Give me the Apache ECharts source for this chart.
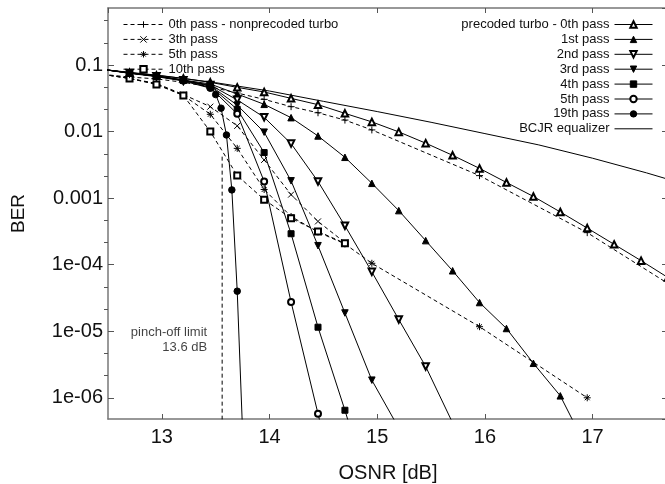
<!DOCTYPE html>
<html>
<head>
<meta charset="utf-8">
<script src="https://cdn.jsdelivr.net/npm/echarts@6/dist/echarts.min.js"></script>
<style>
  html, body { margin: 0; padding: 0; background: #fff; }
  #chart { width: 665px; height: 484px; }
</style>
</head>
<body>
<div id="chart"></div>
<script>
// OSNR [dB] / BER values
// precoded turbo
var pre0X = [12.45, 12.7, 12.95, 13.2, 13.45, 13.7, 13.95, 14.2, 14.45, 14.7, 14.95, 15.2, 15.45, 15.7, 15.95, 16.2, 16.45, 16.7, 16.95, 17.2, 17.45, 17.7];
var pre0 = [0.086, 0.0767, 0.070, 0.063, 0.055, 0.0462, 0.0394, 0.0316, 0.0254, 0.0188, 0.0140, 0.0099, 0.0067, 0.0044, 0.0028, 0.00172, 0.00106, 6.2e-4, 3.55e-4, 2.02e-4, 1.15e-4, 6.4e-5];
var pre1X = [12.45, 12.7, 12.95, 13.2, 13.45, 13.7, 13.95, 14.2, 14.45, 14.7, 14.95, 15.2, 15.45, 15.7, 15.95, 16.2, 16.45, 16.7, 16.95];
var pre1 = [0.086, 0.0767, 0.0684, 0.0596, 0.0519, 0.0367, 0.0257, 0.0162, 0.0086, 0.00411, 0.00167, 6.5e-4, 2.3e-4, 8.1e-5, 2.7e-5, 1.1e-5, 3.3e-6, 1.07e-6, 1.7e-7];
var pre2X = [12.45, 12.7, 12.95, 13.2, 13.45, 13.7, 13.95, 14.2, 14.45, 14.7, 14.95, 15.2, 15.45, 15.7];
var pre2 = [0.086, 0.076, 0.068, 0.059, 0.050, 0.030, 0.0164, 0.0066, 0.00178, 3.85e-4, 7.8e-5, 1.5e-5, 2.95e-6, 4.2e-7];
var pre3X = [12.45, 12.7, 12.95, 13.2, 13.45, 13.7, 13.95, 14.2, 14.45, 14.7, 14.95, 15.2];
var pre3 = [0.086, 0.076, 0.068, 0.059, 0.049, 0.025, 0.0098, 0.00182, 1.93e-4, 1.88e-5, 1.84e-6, 3.5e-7];
var pre4X = [12.45, 12.7, 12.95, 13.2, 13.45, 13.7, 13.95, 14.2, 14.45, 14.7, 14.95];
var pre4 = [0.086, 0.076, 0.068, 0.059, 0.048, 0.0216, 0.00484, 2.92e-4, 1.15e-5, 6.5e-7, 3e-8];
var pre5X = [12.45, 12.7, 12.95, 13.2, 13.45, 13.7, 13.95, 14.2, 14.45, 14.7];
var pre5 = [0.086, 0.076, 0.068, 0.059, 0.046, 0.0185, 0.00178, 2.75e-5, 5.75e-7, 1.2e-8];
var pre19X = [12.45, 12.7, 12.95, 13.2, 13.45, 13.5, 13.55, 13.6, 13.65, 13.7, 13.75];
var pre19 = [0.086, 0.075, 0.067, 0.0575, 0.045, 0.036, 0.0225, 0.0089, 0.00133, 4.0e-5, 3e-7];
var bcjrX = [12.5, 13, 13.5, 14, 14.5, 15, 15.5, 16, 16.5, 17, 17.5, 18];
var bcjr = [0.0841, 0.0692, 0.0543, 0.0407, 0.0285, 0.0200, 0.0138, 0.00933, 0.00631, 0.00398, 0.0024, 0.00138];
// nonprecoded turbo
var np0X = [12.45, 12.7, 12.95, 13.2, 13.45, 13.7, 13.95, 14.2, 14.45, 14.7, 14.95, 15.95, 16.95, 17.95];
var np0 = [0.0725, 0.066, 0.062, 0.055, 0.047, 0.038, 0.0305, 0.0237, 0.0192, 0.0149, 0.0106, 0.00218, 3.03e-4, 2.9e-5];
var np3X = [12.45, 12.7, 12.95, 13.2, 13.45, 13.7, 13.95, 14.2, 14.45, 14.7];
var np3 = [0.0725, 0.063, 0.053, 0.036, 0.0237, 0.0122, 0.00376, 0.00113, 4.47e-4, 2.15e-4];
var np5X = [12.45, 12.7, 12.95, 13.2, 13.45, 13.7, 13.95, 14.2, 14.45, 14.7, 14.95, 15.95, 16.95];
var np5 = [0.0725, 0.063, 0.052, 0.035, 0.0182, 0.0056, 0.00135, 5.3e-4, 3.1e-4, 2.05e-4, 1.05e-4, 1.17e-5, 1.0e-6];
var np10X = [12.45, 12.7, 12.95, 13.2, 13.45, 13.7, 13.95, 14.2, 14.45, 14.7];
var np10 = [0.0725, 0.063, 0.051, 0.035, 0.0100, 0.00219, 9.5e-4, 5.0e-4, 3.16e-4, 2.1e-4];
// pinch-off limit
var pinchX = [13.56, 13.56];
var pinchY = [4.2e-3, 1e-7];

var yMin = 4.8e-7, yMax = 0.72;

var FONT = '"Liberation Sans", Arial, Helvetica, sans-serif';
var PLUS = 'path://M5,0L5,10M0,5L10,5';
var CROSS = 'path://M0,0L10,10M10,0L0,10';
var STAR = 'path://M5,0L5,10M0,5L10,5M1.5,1.5L8.5,8.5M8.5,1.5L1.5,8.5';
// the precoded "5th pass" needs its own series name (zero width space)
var PRE5_NAME = '5th pass\u200b';

function pairs(xs, ys) {
    var out = [];
    for (var i = 0; i < xs.length; i++) {
        out.push([xs[i], ys[i]]);
    }
    return out;
}

function curve(name, xs, ys, symbol, size, dashed, rotate) {
    var s = {
        name: name,
        type: 'line',
        data: pairs(xs, ys),
        symbol: symbol,
        symbolSize: size,
        symbolRotate: rotate || 0,
        showAllSymbol: true,
        lineStyle: { color: '#000', width: 1, type: dashed ? [4, 3] : 'solid' },
        itemStyle: { color: '#000', borderColor: '#000', borderWidth: 1 },
        emphasis: { disabled: true },
        animation: false
    };
    if (symbol.indexOf('path://') === 0) {
        s.itemStyle = { color: 'none', borderColor: '#000', borderWidth: 1 };
    }
    return s;
}

function berLabel(v) {
    var p = Math.round(Math.log(v) / Math.LN10);
    if (Math.abs(v / Math.pow(10, p) - 1) > 1e-6) return '';
    if (p >= -3) return String(Number(Math.pow(10, p).toFixed(-p)));
    return '1e-0' + (-p);
}

var chart = echarts.init(document.getElementById('chart'));
var axisLine = { show: true, lineStyle: { color: '#777', width: 1.5 } };
var tickStyle = { color: '#555', width: 1 };
var legendBase = {
    orient: 'vertical',
    top: 18,
    padding: 0,
    itemHeight: 8,
    itemGap: 1.9,
    selectedMode: false,
    lineStyle: { width: 1 },
    itemStyle: { borderWidth: 1 },
    textStyle: { fontSize: 13, color: '#111', fontFamily: FONT }
};

var option = {
    backgroundColor: '#fff',
    textStyle: { fontFamily: FONT },
    grid: { left: 108, right: -3, top: 8, bottom: 65, outerBoundsMode: 'none' },
    legend: [
        echarts.util.extend({
            left: 123,
            itemWidth: 40,
            data: ['0th pass - nonprecoded turbo', '3th pass', '5th pass', '10th pass']
        }, legendBase),
        echarts.util.extend({
            right: 12,
            align: 'right',
            itemWidth: 38,
            data: ['precoded turbo - 0th pass', '1st pass', '2nd pass', '3rd pass', '4th pass', PRE5_NAME, '19th pass',
                { name: 'BCJR equalizer', itemStyle: { color: 'rgba(0,0,0,0)', borderColor: 'rgba(0,0,0,0)' } }]
        }, legendBase)
    ],
    xAxis: [{
        type: 'value',
        min: 12.5,
        max: 17.7,
        name: 'OSNR [dB]',
        nameLocation: 'middle',
        nameGap: 44,
        nameTextStyle: { fontSize: 20, color: '#111', fontFamily: FONT },
        axisLine: axisLine,
        axisTick: { inside: true, length: 5, lineStyle: tickStyle },
        axisLabel: { fontSize: 20, color: '#111', margin: 8, showMinLabel: false, showMaxLabel: false, fontFamily: FONT },
        splitLine: { show: false }
    }, {
        type: 'value',
        position: 'top',
        min: 12.5,
        max: 17.7,
        axisLine: axisLine,
        axisTick: { inside: true, length: 5, lineStyle: tickStyle },
        axisLabel: { show: false },
        splitLine: { show: false }
    }],
    yAxis: [{
        type: 'log',
        logBase: 10,
        min: yMin,
        max: yMax,
        name: 'BER',
        nameLocation: 'middle',
        nameGap: 80,
        nameTextStyle: { fontSize: 19, color: '#111', fontFamily: FONT },
        axisLine: axisLine,
        axisTick: { inside: true, length: 6, lineStyle: tickStyle },
        axisLabel: { fontSize: 20, color: '#111', margin: 5, formatter: berLabel, showMinLabel: false, showMaxLabel: false, fontFamily: FONT },
        splitLine: { show: false }
    }, {
        type: 'log',
        logBase: 10,
        position: 'right',
        min: yMin,
        max: yMax,
        axisLine: axisLine,
        axisTick: { inside: true, length: 6, lineStyle: tickStyle },
        axisLabel: { show: false },
        splitLine: { show: false }
    }, {
        // decade exponents, only used to place the minor ticks on the left edge
        type: 'value',
        position: 'left',
        min: Math.log(yMin) / Math.LN10,
        max: Math.log(yMax) / Math.LN10,
        axisLine: { show: false },
        axisTick: { show: false },
        axisLabel: { show: false },
        minorTick: { show: true, splitNumber: 3, length: 4, lineStyle: tickStyle },
        splitLine: { show: false }
    }],
    series: [
        curve('0th pass - nonprecoded turbo', np0X, np0, PLUS, 7, true),
        curve('3th pass', np3X, np3, CROSS, 6, true),
        curve('5th pass', np5X, np5, STAR, 7, true),
        curve('10th pass', np10X, np10, 'emptyRect', 6, true),
        curve('precoded turbo - 0th pass', pre0X, pre0, 'emptyTriangle', 6.5, false),
        curve('1st pass', pre1X, pre1, 'triangle', 6.5, false),
        curve('2nd pass', pre2X, pre2, 'emptyTriangle', 6.5, false, 180),
        curve('3rd pass', pre3X, pre3, 'triangle', 6.5, false, 180),
        curve('4th pass', pre4X, pre4, 'rect', 6, false),
        curve(PRE5_NAME, pre5X, pre5, 'emptyCircle', 6, false),
        curve('19th pass', pre19X, pre19, 'circle', 6.5, false),
        curve('BCJR equalizer', bcjrX, bcjr, 'none', 0, false),
        {
            name: 'pinch-off',
            type: 'line',
            data: pairs(pinchX, pinchY),
            symbol: 'none',
            lineStyle: { color: '#000', width: 1, type: [4, 3] },
            silent: true,
            animation: false
        },
        {
            name: 'pinch-off label',
            type: 'scatter',
            data: [[13.56, 7.5e-6]],
            symbolSize: 0,
            silent: true,
            animation: false,
            label: {
                show: true,
                position: 'left',
                distance: 15,
                formatter: 'pinch-off limit\n13.6 dB',
                fontSize: 13,
                lineHeight: 15,
                color: '#111',
                fontFamily: FONT
            }
        }
    ]
};
chart.setOption(option);
</script>
</body>
</html>
